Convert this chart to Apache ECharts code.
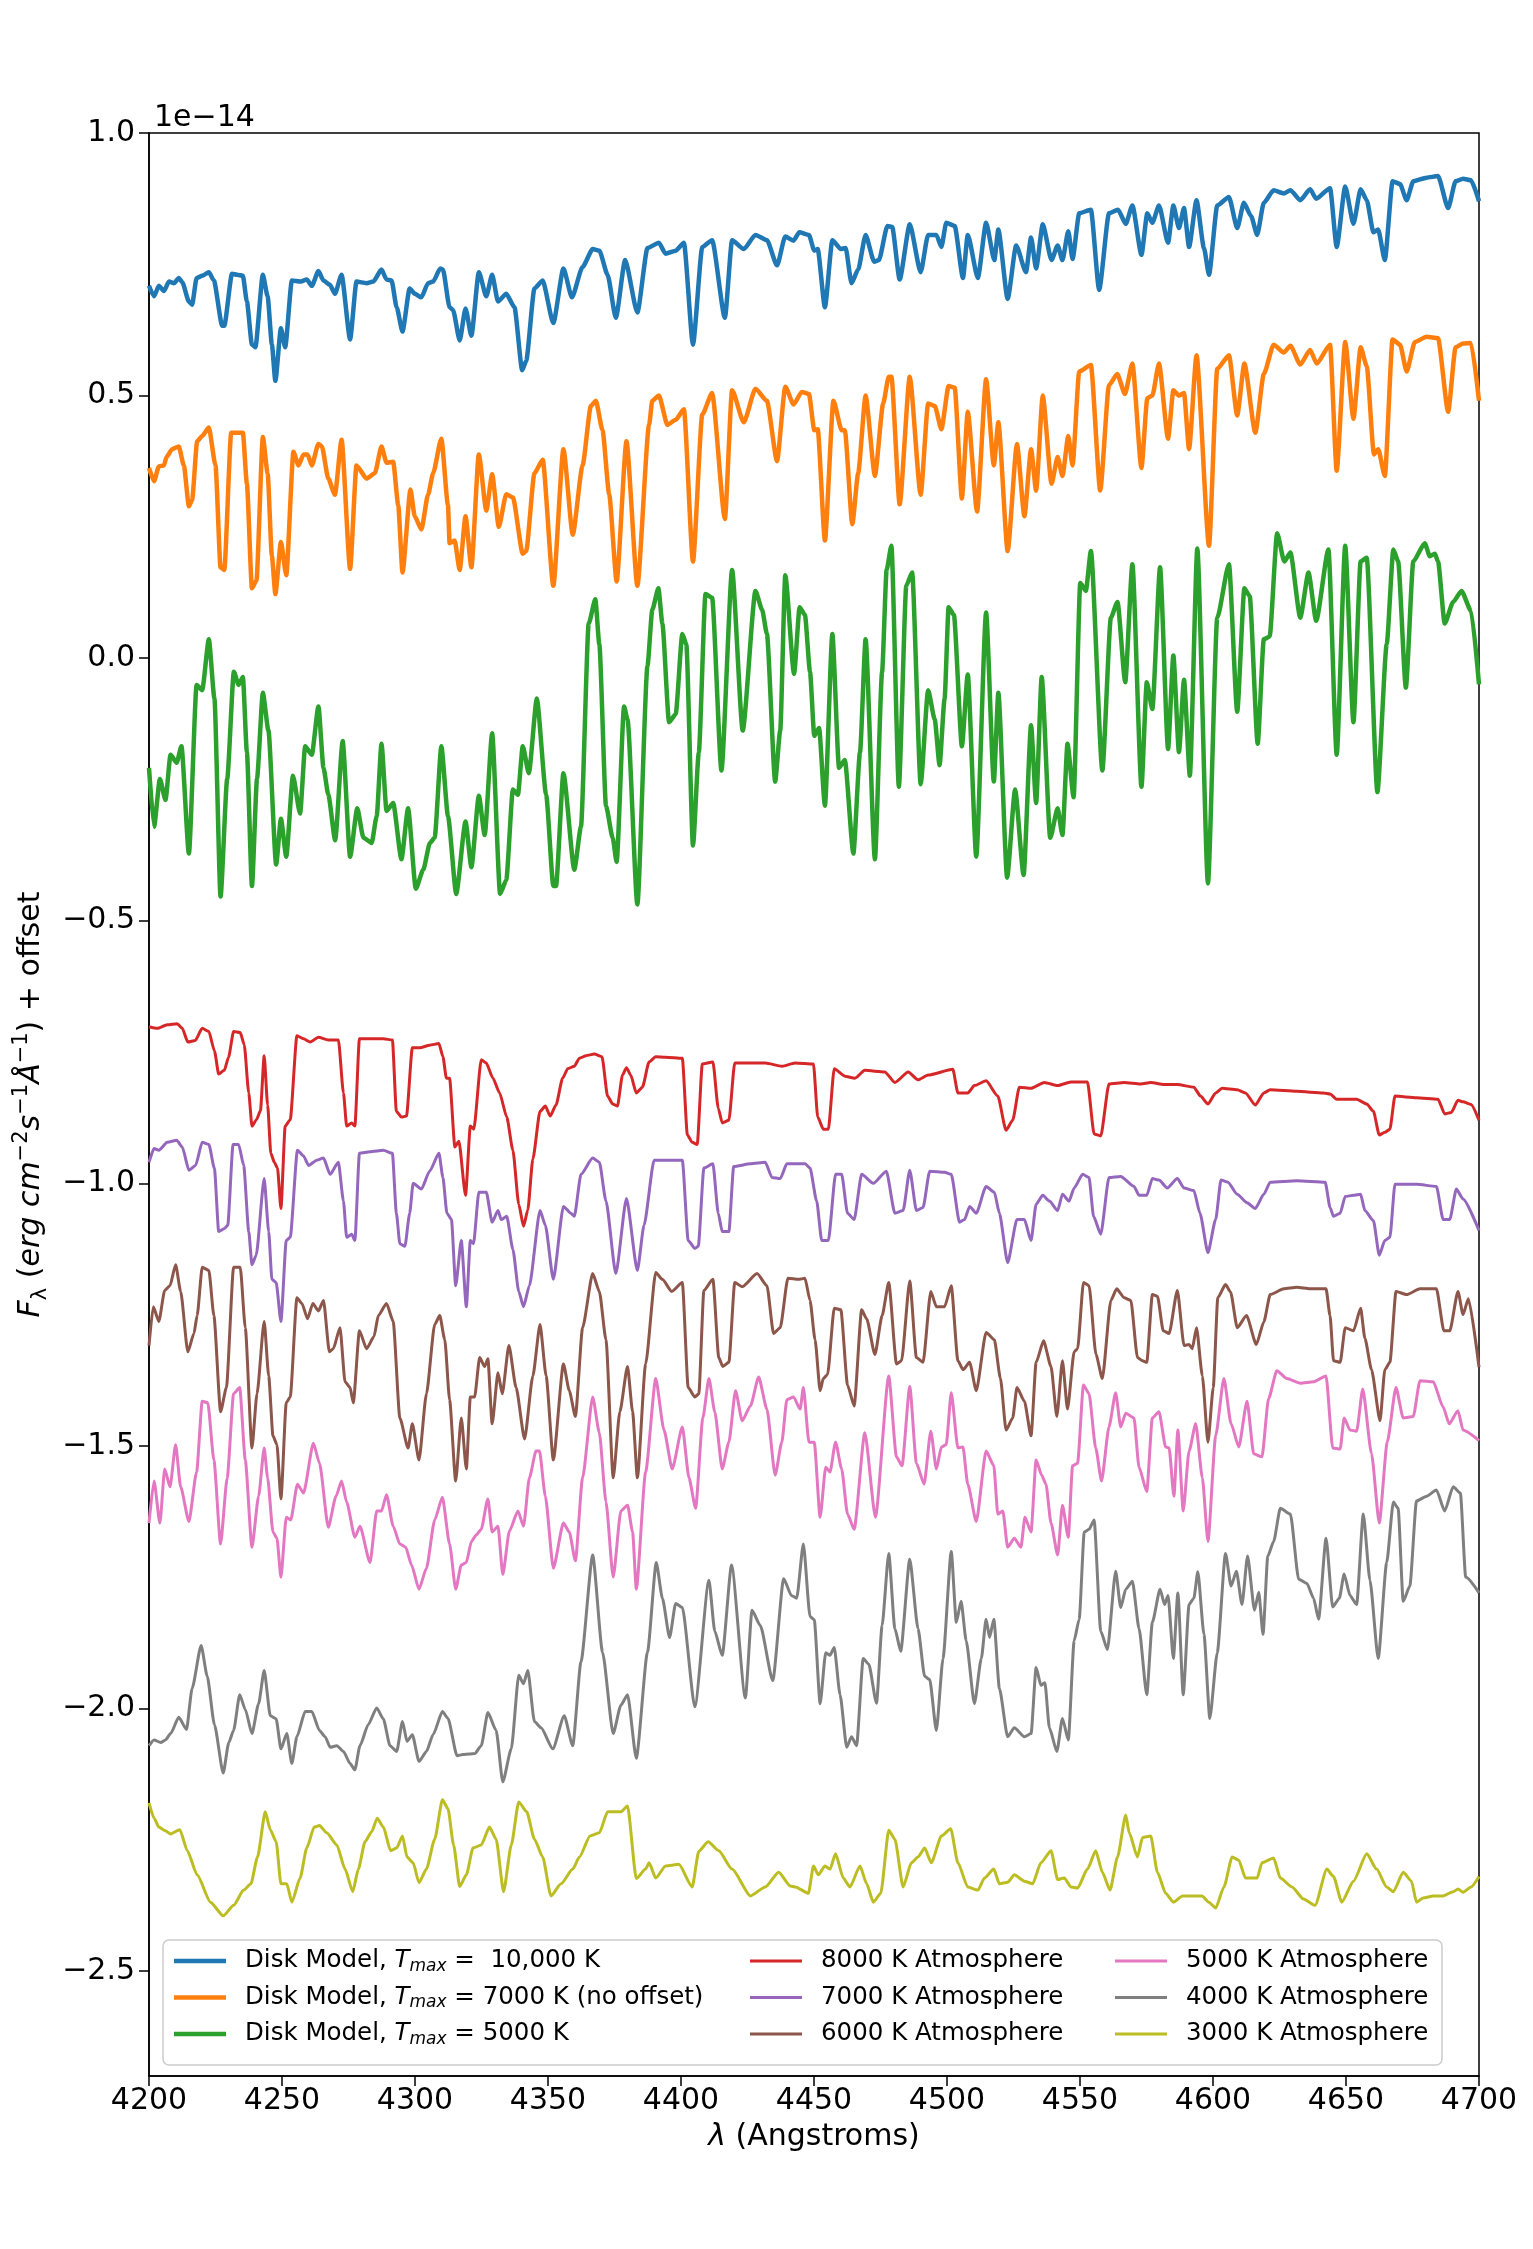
<!DOCTYPE html>
<html>
<head>
<meta charset="utf-8">
<script src="https://cdn.jsdelivr.net/npm/echarts@6/dist/echarts.min.js"></script>
<style>
  html, body { margin: 0; padding: 0; background: #fff; }
  #spectra { width: 1533px; height: 2249px; }
</style>
</head>
<body>
<div id="spectra"></div>
<script>
// flux (units of 1e-14, offsets already applied) vs wavelength in Angstroms
var disk10000 = [[4200,0.709],[4201.9,0.689],[4203.7,0.709],[4205.6,0.699],[4207.5,0.717],[4209.4,0.714],[4211.2,0.724],[4212.5,0.716],[4215,0.679],[4216.2,0.673],[4217.9,0.724],[4220,0.728],[4222.5,0.735],[4224.4,0.719],[4227.5,0.633],[4228.3,0.633],[4231.2,0.732],[4233.1,0.73],[4235.3,0.728],[4236.8,0.679],[4238.7,0.597],[4240,0.592],[4242.8,0.73],[4244.6,0.689],[4246.2,0.597],[4247.5,0.528],[4249.6,0.628],[4251.2,0.592],[4253.7,0.719],[4256.8,0.717],[4259.3,0.721],[4261.2,0.709],[4263.7,0.737],[4265.6,0.719],[4268,0.711],[4269.9,0.694],[4272.4,0.73],[4275.6,0.607],[4278,0.717],[4281.8,0.714],[4284.3,0.717],[4287.4,0.74],[4289.3,0.721],[4291.2,0.719],[4293.1,0.668],[4295.3,0.622],[4298,0.704],[4299.9,0.694],[4302.4,0.687],[4304.9,0.714],[4306.8,0.717],[4309.5,0.742],[4310.5,0.74],[4313,0.668],[4314.3,0.663],[4316.8,0.605],[4319,0.666],[4321.2,0.614],[4324,0.735],[4326.8,0.689],[4329,0.73],[4331.2,0.679],[4334.3,0.694],[4337.4,0.668],[4340.3,0.548],[4341.8,0.566],[4344.9,0.704],[4348,0.719],[4352,0.638],[4355.8,0.742],[4359,0.687],[4363,0.745],[4366.8,0.779],[4369.3,0.776],[4372.4,0.73],[4375.5,0.648],[4379,0.758],[4383.6,0.658],[4387.4,0.781],[4391.7,0.791],[4394.2,0.77],[4398,0.776],[4401.1,0.791],[4404.5,0.597],[4408,0.783],[4411.7,0.796],[4416.5,0.648],[4419.2,0.796],[4423.6,0.779],[4428,0.806],[4432.3,0.796],[4436.1,0.748],[4439.2,0.803],[4442.3,0.795],[4444.5,0.811],[4448.1,0.806],[4450.1,0.776],[4451.4,0.779],[4454.1,0.668],[4456.9,0.796],[4460.1,0.779],[4461.9,0.781],[4464.1,0.714],[4466.6,0.74],[4469.4,0.806],[4472.6,0.755],[4474.4,0.758],[4477.6,0.823],[4479.4,0.821],[4482.2,0.721],[4486,0.826],[4490.1,0.735],[4492.9,0.806],[4496,0.806],[4497.9,0.783],[4499.7,0.829],[4502.9,0.823],[4506,0.724],[4507.8,0.806],[4511.6,0.724],[4514.7,0.829],[4517.8,0.758],[4519.3,0.816],[4522.8,0.684],[4526,0.786],[4529.7,0.735],[4531.6,0.801],[4533.5,0.742],[4536,0.826],[4539.3,0.758],[4541.6,0.786],[4543.4,0.758],[4545.6,0.813],[4547.2,0.76],[4549.7,0.847],[4554.1,0.854],[4557.2,0.701],[4560.9,0.847],[4564.3,0.854],[4567.2,0.827],[4569.7,0.862],[4573.1,0.768],[4575.3,0.847],[4577.2,0.829],[4579.7,0.862],[4583.1,0.791],[4585.1,0.862],[4587.2,0.819],[4589.1,0.857],[4591,0.783],[4593.8,0.872],[4596.6,0.781],[4598.5,0.73],[4601.6,0.862],[4606,0.878],[4609.1,0.819],[4611.6,0.867],[4614.3,0.842],[4616.6,0.806],[4619.1,0.867],[4622.8,0.891],[4626.6,0.885],[4629.1,0.891],[4632.8,0.872],[4636.5,0.893],[4638.8,0.875],[4644,0.895],[4646.5,0.783],[4649.7,0.898],[4652.8,0.827],[4655.5,0.893],[4657.8,0.872],[4660.3,0.811],[4662.1,0.816],[4664.6,0.758],[4667.5,0.908],[4670.3,0.903],[4672.8,0.872],[4675.3,0.908],[4680.3,0.915],[4684.6,0.918],[4688.4,0.857],[4691.2,0.908],[4694,0.913],[4697,0.91],[4700,0.87]];

var disk7000 = [[4200,0.362],[4201.9,0.337],[4203.7,0.365],[4205.6,0.367],[4206.6,0.383],[4208.7,0.398],[4211.2,0.403],[4213.1,0.367],[4215,0.289],[4216.2,0.301],[4218.1,0.413],[4220,0.423],[4222.5,0.439],[4225,0.367],[4226.9,0.173],[4228.3,0.168],[4230.9,0.429],[4233.1,0.429],[4235.3,0.429],[4236.8,0.332],[4238.7,0.133],[4240.4,0.148],[4242.8,0.421],[4244.6,0.352],[4246.2,0.194],[4247.5,0.122],[4249.6,0.221],[4251.6,0.158],[4254.3,0.393],[4256.2,0.367],[4258.1,0.388],[4259.6,0.388],[4261.2,0.367],[4263.7,0.408],[4265,0.403],[4267.4,0.342],[4269.9,0.311],[4272.4,0.416],[4275.6,0.17],[4278,0.367],[4281.8,0.342],[4284.9,0.352],[4287.4,0.403],[4289.3,0.372],[4291.8,0.374],[4293.7,0.291],[4295.3,0.163],[4298.3,0.321],[4299.9,0.27],[4302.4,0.245],[4304.9,0.311],[4306.8,0.352],[4309.9,0.418],[4312.4,0.291],[4313,0.219],[4314.9,0.224],[4316.8,0.168],[4319,0.27],[4321.2,0.173],[4324,0.388],[4326.8,0.281],[4329,0.35],[4331.5,0.25],[4334.3,0.312],[4336.8,0.306],[4340.5,0.199],[4341.8,0.204],[4344.9,0.352],[4348,0.378],[4352,0.138],[4355.8,0.398],[4359.3,0.235],[4363,0.367],[4366.1,0.48],[4368,0.49],[4370.5,0.434],[4373,0.312],[4375.8,0.146],[4379.5,0.413],[4383.6,0.138],[4388,0.444],[4389.2,0.49],[4391.7,0.5],[4394.9,0.444],[4398,0.454],[4401.1,0.474],[4404.5,0.184],[4408,0.464],[4411.7,0.505],[4416.5,0.265],[4419.2,0.51],[4423.6,0.449],[4428,0.513],[4432.3,0.49],[4436.1,0.375],[4439.2,0.517],[4442.3,0.483],[4445.4,0.507],[4448.1,0.503],[4450.1,0.434],[4451.4,0.436],[4454.1,0.224],[4457.3,0.49],[4460.4,0.434],[4461.6,0.434],[4464.4,0.255],[4466.6,0.352],[4469.4,0.5],[4472.9,0.347],[4476,0.485],[4478.1,0.536],[4479.1,0.536],[4482.2,0.293],[4486,0.536],[4490.1,0.311],[4492.9,0.485],[4495.4,0.48],[4497.9,0.436],[4500.6,0.518],[4502.9,0.515],[4505.6,0.304],[4507.8,0.469],[4511.3,0.279],[4514.7,0.531],[4517.6,0.367],[4519.3,0.449],[4522.8,0.204],[4526.3,0.408],[4529.1,0.27],[4531.6,0.398],[4533.5,0.319],[4536,0.5],[4539.3,0.332],[4541.6,0.383],[4543.4,0.347],[4545.6,0.423],[4547.2,0.367],[4549.7,0.546],[4554.1,0.558],[4557.6,0.319],[4560.9,0.52],[4564,0.541],[4566.9,0.503],[4569.7,0.561],[4573.1,0.362],[4575.3,0.495],[4577.2,0.5],[4579.7,0.561],[4583.1,0.418],[4585.1,0.51],[4587.2,0.5],[4589.1,0.505],[4591,0.398],[4593.8,0.577],[4598.5,0.214],[4601.6,0.551],[4606,0.577],[4609.1,0.462],[4611.8,0.561],[4615.9,0.429],[4619.1,0.541],[4622.8,0.597],[4626.6,0.582],[4629.1,0.595],[4632.8,0.559],[4636.5,0.587],[4639,0.561],[4644,0.597],[4646.5,0.357],[4649.7,0.602],[4652.8,0.456],[4655.5,0.592],[4657.8,0.556],[4660.5,0.388],[4662.1,0.398],[4664.6,0.347],[4667.5,0.607],[4670.3,0.597],[4672.8,0.546],[4675.9,0.602],[4680.3,0.612],[4684.6,0.609],[4688.4,0.469],[4691.2,0.592],[4694,0.599],[4697,0.6],[4700,0.49]];

var disk5000 = [[4200,-0.209],[4201.9,-0.321],[4204.1,-0.23],[4206.2,-0.27],[4208.1,-0.184],[4210.4,-0.199],[4212.2,-0.168],[4215,-0.372],[4217.9,-0.051],[4220,-0.061],[4222.5,0.036],[4224.6,-0.077],[4226.9,-0.454],[4229.4,-0.23],[4231.9,-0.026],[4233.7,-0.051],[4235.3,-0.036],[4236.8,-0.179],[4238.7,-0.434],[4240.6,-0.23],[4242.8,-0.066],[4244.9,-0.138],[4247.8,-0.393],[4249.6,-0.306],[4251.6,-0.378],[4254.1,-0.224],[4256.8,-0.296],[4258.7,-0.168],[4261.2,-0.184],[4263.7,-0.092],[4265.6,-0.209],[4267.4,-0.26],[4270,-0.347],[4272.8,-0.158],[4275.6,-0.378],[4278.3,-0.286],[4280.6,-0.342],[4283.7,-0.352],[4285.6,-0.301],[4287.4,-0.163],[4289.3,-0.291],[4291.8,-0.276],[4294.9,-0.383],[4297.4,-0.286],[4300.3,-0.439],[4303.1,-0.403],[4305.6,-0.352],[4307.4,-0.342],[4309.9,-0.168],[4312.4,-0.301],[4315.5,-0.449],[4319,-0.311],[4321.2,-0.398],[4324,-0.262],[4326.2,-0.337],[4329,-0.143],[4332,-0.449],[4334.3,-0.423],[4336.8,-0.25],[4338.7,-0.26],[4340.5,-0.168],[4342.8,-0.219],[4345.8,-0.077],[4349.3,-0.26],[4352,-0.434],[4353,-0.434],[4355.8,-0.219],[4359.9,-0.403],[4362.4,-0.321],[4365.3,0.066],[4367.8,0.112],[4369.3,0.026],[4371.8,-0.281],[4374.3,-0.342],[4375.8,-0.388],[4378.6,-0.092],[4379.9,-0.117],[4383.6,-0.469],[4387.4,-0.015],[4389.2,0.092],[4391.5,0.133],[4393,0.066],[4395.5,-0.122],[4398,-0.107],[4400.5,0.046],[4402,0.026],[4404.5,-0.357],[4406.7,-0.179],[4409.2,0.122],[4411.7,0.115],[4415.2,-0.214],[4419.2,0.168],[4423.2,-0.138],[4428,0.128],[4430.5,0.092],[4432.3,0.046],[4435.4,-0.235],[4437.3,-0.138],[4439.2,0.158],[4442.5,-0.03],[4444.6,0.097],[4446.6,0.082],[4448.5,-0.026],[4450.1,-0.148],[4451.9,-0.133],[4454.1,-0.281],[4456.9,0.046],[4459.4,-0.209],[4461.6,-0.194],[4464.8,-0.372],[4467.3,-0.179],[4469.4,0.036],[4472.9,-0.383],[4475.6,-0.026],[4477.3,0.168],[4479.1,0.214],[4481.9,-0.245],[4484.7,0.138],[4486.9,0.163],[4490.1,-0.24],[4492.9,-0.061],[4495.4,-0.117],[4497.2,-0.204],[4499.1,-0.077],[4500.6,0.097],[4502.6,0.082],[4505.6,-0.168],[4507.8,-0.031],[4511,-0.378],[4514.7,0.087],[4517.6,-0.235],[4519.3,-0.066],[4522.6,-0.418],[4525.6,-0.25],[4528.8,-0.413],[4531.6,-0.128],[4533.5,-0.276],[4535.6,-0.036],[4538.8,-0.342],[4541.6,-0.286],[4543.4,-0.337],[4545.3,-0.163],[4547.6,-0.265],[4550.1,0.143],[4552.2,0.128],[4554.1,0.204],[4558.4,-0.214],[4561.6,0.077],[4564.1,0.107],[4567,-0.046],[4569.7,0.179],[4573.1,-0.245],[4575.1,-0.046],[4577.2,-0.097],[4580.1,0.173],[4583.1,-0.173],[4585.1,0.005],[4587.2,-0.179],[4589.1,-0.041],[4591.3,-0.224],[4594.1,0.209],[4598.1,-0.429],[4601.6,0.077],[4606,0.179],[4609.1,-0.102],[4611.8,0.133],[4613.8,0.118],[4616.8,-0.163],[4619.1,0.036],[4621.3,0.041],[4624.1,0.238],[4626.8,0.184],[4629.1,0.201],[4632.8,0.077],[4635.9,0.163],[4638.8,0.071],[4643.4,0.207],[4646.5,-0.184],[4649.7,0.214],[4652.8,-0.122],[4655.5,0.184],[4657.8,0.191],[4661.8,-0.255],[4665.3,0.026],[4667.8,0.207],[4669.6,0.184],[4672.5,-0.056],[4675.3,0.184],[4679.6,0.219],[4681.5,0.194],[4683.4,0.199],[4684.6,0.184],[4687.1,0.066],[4690.3,0.107],[4693.4,0.128],[4697,0.09],[4700,-0.05]];

var atm8000 = [[4200,-0.702],[4203.1,-0.705],[4206.9,-0.698],[4210.6,-0.696],[4212.5,-0.705],[4214.6,-0.731],[4217.4,-0.728],[4220,-0.705],[4222.5,-0.711],[4224.6,-0.748],[4226.2,-0.792],[4228.3,-0.785],[4229.9,-0.76],[4231.8,-0.711],[4234.3,-0.713],[4235.8,-0.736],[4237.5,-0.828],[4238.7,-0.891],[4240.4,-0.879],[4241.9,-0.862],[4243.3,-0.757],[4244.6,-0.851],[4245.8,-0.943],[4247.1,-0.96],[4248.3,-0.971],[4249.6,-1.048],[4251.2,-0.891],[4253.1,-0.879],[4255.6,-0.719],[4258.1,-0.725],[4260.6,-0.731],[4263.7,-0.722],[4267.4,-0.727],[4271.2,-0.727],[4273.1,-0.828],[4274.3,-0.891],[4276.2,-0.885],[4277.4,-0.891],[4279.1,-0.725],[4283.1,-0.725],[4288.1,-0.725],[4291.5,-0.727],[4293,-0.863],[4294.9,-0.874],[4296.8,-0.872],[4299,-0.742],[4301.8,-0.742],[4305.5,-0.737],[4309,-0.734],[4310.5,-0.759],[4311.8,-0.8],[4313,-0.8],[4315,-0.931],[4316.5,-0.92],[4319,-1.023],[4320.8,-0.891],[4322.1,-0.897],[4324.9,-0.765],[4326.8,-0.771],[4329.3,-0.8],[4331.8,-0.828],[4334.5,-0.874],[4336.8,-0.937],[4339,-1.04],[4340.8,-1.082],[4342.4,-1.051],[4344.3,-0.954],[4347,-0.863],[4349,-0.853],[4350.8,-0.872],[4353,-0.851],[4355.5,-0.8],[4357.4,-0.782],[4359.9,-0.777],[4361.8,-0.762],[4364.3,-0.757],[4367.4,-0.754],[4370.3,-0.759],[4372.4,-0.834],[4374.3,-0.849],[4376.1,-0.853],[4378,-0.794],[4379.5,-0.78],[4381.1,-0.794],[4383.2,-0.828],[4385.5,-0.817],[4388,-0.769],[4390.5,-0.759],[4394.2,-0.76],[4400.5,-0.762],[4402.4,-0.908],[4404.2,-0.922],[4406.1,-0.926],[4408,-0.773],[4412,-0.769],[4414,-0.857],[4415.5,-0.885],[4418,-0.88],[4420.2,-0.771],[4425.5,-0.771],[4431.7,-0.771],[4438,-0.777],[4442.9,-0.771],[4449.8,-0.773],[4451.4,-0.874],[4453.5,-0.897],[4455.4,-0.897],[4457.6,-0.782],[4461.6,-0.796],[4465.4,-0.8],[4469.1,-0.785],[4476.6,-0.788],[4480.4,-0.808],[4485.4,-0.788],[4489.1,-0.803],[4492.9,-0.794],[4502.2,-0.783],[4504.1,-0.828],[4507.8,-0.828],[4510.3,-0.814],[4514.7,-0.805],[4519.1,-0.834],[4522.2,-0.899],[4524.7,-0.88],[4527.2,-0.817],[4531.6,-0.819],[4536.6,-0.808],[4541.6,-0.814],[4546.6,-0.807],[4552.8,-0.807],[4555.3,-0.906],[4557.8,-0.91],[4560.9,-0.811],[4566.6,-0.808],[4572.8,-0.811],[4576.6,-0.808],[4581.6,-0.812],[4586.6,-0.812],[4592.8,-0.817],[4595.3,-0.834],[4598.1,-0.849],[4601,-0.828],[4603.4,-0.819],[4609.1,-0.822],[4612.2,-0.828],[4615.9,-0.851],[4619.1,-0.828],[4621.5,-0.822],[4631.5,-0.825],[4641.5,-0.828],[4644,-0.83],[4646.5,-0.84],[4654,-0.84],[4657.8,-0.849],[4660.3,-0.863],[4662.5,-0.908],[4664.6,-0.903],[4666.5,-0.897],[4668.4,-0.834],[4676.5,-0.837],[4684.6,-0.84],[4687.1,-0.868],[4689.6,-0.865],[4692.1,-0.842],[4694,-0.845],[4697,-0.85],[4700,-0.88]];

var atm7000 = [[4200,-0.96],[4201.9,-0.934],[4203.7,-0.937],[4206.9,-0.922],[4210.4,-0.918],[4212.5,-0.931],[4215,-0.975],[4217.5,-0.966],[4220,-0.922],[4222.5,-0.926],[4224.6,-0.972],[4226.2,-1.092],[4228.4,-1.086],[4229.6,-1.08],[4231.6,-0.926],[4233.7,-0.926],[4235.6,-0.966],[4237.5,-1.092],[4238.7,-1.155],[4240.3,-1.137],[4243.3,-0.991],[4245,-1.092],[4246.2,-1.183],[4247.8,-1.189],[4249.6,-1.263],[4251.6,-1.109],[4253.1,-1.103],[4255.8,-0.937],[4258.1,-0.948],[4260,-0.966],[4263.1,-0.956],[4265.6,-0.952],[4268.1,-0.983],[4271.2,-0.96],[4273.1,-1.034],[4274.3,-1.103],[4276.2,-1.097],[4277.4,-1.109],[4279.1,-0.943],[4283.1,-0.94],[4288.1,-0.937],[4291.5,-0.943],[4293,-1.057],[4294.3,-1.115],[4296.2,-1.12],[4298,-1.057],[4299.3,-1],[4302.4,-1.011],[4305.5,-0.977],[4309,-0.943],[4310.5,-0.989],[4312,-1.057],[4313.7,-1.069],[4315.3,-1.195],[4317.4,-1.109],[4319.3,-1.235],[4320.8,-1.109],[4322,-1.115],[4324,-1.017],[4326.8,-1.017],[4329,-1.074],[4331.2,-1.052],[4332.4,-1.069],[4334.5,-1.063],[4336.8,-1.126],[4339,-1.206],[4340.8,-1.235],[4343,-1.195],[4347,-1.052],[4349,-1.08],[4352,-1.183],[4355.8,-1.044],[4358.6,-1.057],[4359.9,-1.063],[4362.4,-0.983],[4366.8,-0.952],[4369.3,-0.96],[4371.8,-1.034],[4375.5,-1.172],[4379.5,-1.029],[4383.6,-1.166],[4386.1,-1.08],[4389.9,-0.956],[4394.2,-0.956],[4400.5,-0.956],[4402.7,-1.109],[4405.2,-1.124],[4406.5,-1.12],[4408.6,-0.971],[4412,-0.963],[4414,-1.057],[4415.5,-1.092],[4418,-1.092],[4419.8,-0.968],[4426.1,-0.963],[4431.7,-0.96],[4434.2,-0.989],[4437.3,-0.991],[4439.8,-0.963],[4446.7,-0.963],[4448.5,-0.971],[4451,-1.034],[4452.9,-1.109],[4455.4,-1.109],[4458.1,-0.983],[4460.4,-0.983],[4462.6,-1.057],[4465.1,-1.069],[4467.9,-0.983],[4472.3,-1],[4477.2,-0.977],[4480.4,-1.057],[4483.5,-1.052],[4486,-0.975],[4488.5,-1.052],[4491,-1.046],[4493.5,-0.977],[4499.1,-0.979],[4501.6,-0.983],[4504.7,-1.074],[4506.6,-1.069],[4508.5,-1.044],[4511,-1.057],[4514.7,-1.006],[4517.8,-1.017],[4519.7,-1.057],[4522.8,-1.151],[4526.3,-1.069],[4529.1,-1.069],[4531.6,-1.109],[4533.5,-1.04],[4536,-1.023],[4538.5,-1.034],[4541.6,-1.052],[4543.4,-1.021],[4545.9,-1.034],[4547.8,-1.009],[4551,-0.983],[4553.4,-0.989],[4555.1,-1.063],[4557.8,-1.097],[4560.9,-0.989],[4565.3,-0.987],[4570.3,-1.006],[4572.2,-1.023],[4575.1,-1.023],[4577.2,-0.991],[4579.7,-0.994],[4582.8,-1.009],[4586.6,-0.991],[4589.1,-1.009],[4592.8,-1.014],[4595.1,-1.057],[4598.1,-1.132],[4601,-1.069],[4603,-0.994],[4605.6,-0.998],[4609.1,-1.021],[4612.8,-1.037],[4615.9,-1.048],[4619.1,-1.021],[4621.5,-0.998],[4631.5,-0.995],[4642.2,-0.998],[4644,-1.046],[4645.3,-1.063],[4647.8,-1.057],[4649.7,-1.025],[4652.8,-1.023],[4655.5,-1.021],[4657.1,-1.052],[4660.3,-1.071],[4662.5,-1.137],[4664.6,-1.109],[4666.5,-1.103],[4668.4,-1.002],[4676.5,-1.002],[4684,-1.006],[4686.5,-1.069],[4689,-1.069],[4691.5,-1.011],[4694,-1.03],[4700,-1.09]];

var atm6000 = [[4200,-1.309],[4201.6,-1.235],[4203.7,-1.263],[4205.9,-1.204],[4207.9,-1.195],[4210,-1.155],[4211.9,-1.206],[4214.6,-1.321],[4216.9,-1.286],[4218.1,-1.252],[4220,-1.16],[4222.5,-1.166],[4224.4,-1.252],[4226.9,-1.435],[4229.1,-1.389],[4231.8,-1.16],[4234.3,-1.16],[4236.2,-1.275],[4238.7,-1.504],[4240.6,-1.401],[4243.3,-1.263],[4245,-1.367],[4246.6,-1.481],[4248.1,-1.498],[4249.6,-1.601],[4251.6,-1.418],[4253.1,-1.407],[4255.6,-1.218],[4257.5,-1.229],[4259.6,-1.258],[4261.6,-1.229],[4263.7,-1.243],[4265.6,-1.223],[4267.8,-1.321],[4269.3,-1.315],[4271.8,-1.275],[4273.7,-1.378],[4275.6,-1.389],[4276.8,-1.418],[4279.1,-1.281],[4281.8,-1.315],[4284.6,-1.292],[4286.2,-1.252],[4289.3,-1.229],[4291.8,-1.263],[4294.3,-1.447],[4297.4,-1.504],[4299,-1.458],[4301.5,-1.527],[4304.3,-1.401],[4307.4,-1.269],[4309.3,-1.252],[4311.2,-1.298],[4313,-1.412],[4315.3,-1.567],[4317.4,-1.447],[4319.3,-1.544],[4320.8,-1.407],[4322.4,-1.407],[4324.3,-1.332],[4326.2,-1.349],[4327.4,-1.334],[4329,-1.458],[4331.2,-1.361],[4332.8,-1.401],[4335.3,-1.309],[4338,-1.389],[4341.2,-1.487],[4344.3,-1.367],[4347,-1.269],[4349.3,-1.367],[4352,-1.527],[4355.8,-1.344],[4358,-1.395],[4360.3,-1.444],[4363,-1.275],[4366.8,-1.172],[4369.3,-1.206],[4371.8,-1.298],[4374.5,-1.561],[4377,-1.435],[4379.9,-1.349],[4381.8,-1.435],[4383.6,-1.561],[4386.7,-1.344],[4390.5,-1.17],[4393,-1.183],[4396.5,-1.206],[4400.5,-1.189],[4402.7,-1.389],[4405.2,-1.407],[4406.7,-1.401],[4408.6,-1.204],[4412,-1.183],[4414.2,-1.332],[4415.7,-1.349],[4418,-1.341],[4420.2,-1.189],[4423,-1.197],[4428.6,-1.172],[4432.3,-1.195],[4434.8,-1.286],[4437.3,-1.275],[4440.2,-1.181],[4444.2,-1.183],[4446.6,-1.181],[4448.5,-1.223],[4450.4,-1.298],[4452.3,-1.395],[4453.5,-1.372],[4455.1,-1.364],[4457.6,-1.238],[4460.1,-1.241],[4462.6,-1.384],[4465.1,-1.424],[4467.9,-1.241],[4469.8,-1.258],[4472.9,-1.326],[4475.6,-1.252],[4478.1,-1.189],[4481,-1.344],[4482.9,-1.338],[4486,-1.186],[4488.5,-1.332],[4491,-1.341],[4493.9,-1.206],[4496,-1.235],[4499.1,-1.235],[4501.6,-1.195],[4504.1,-1.338],[4506,-1.355],[4508.5,-1.341],[4511,-1.395],[4514.7,-1.284],[4517.8,-1.298],[4520.1,-1.372],[4522.2,-1.47],[4524.7,-1.447],[4526.3,-1.389],[4529.1,-1.415],[4531.6,-1.481],[4533.5,-1.341],[4536.3,-1.3],[4539.1,-1.349],[4541.3,-1.444],[4543.4,-1.338],[4545.3,-1.43],[4547.8,-1.321],[4549.1,-1.315],[4551.3,-1.189],[4553.4,-1.195],[4556,-1.326],[4558.4,-1.372],[4561.6,-1.223],[4563.8,-1.201],[4566.6,-1.218],[4569.1,-1.223],[4571.6,-1.332],[4573.5,-1.338],[4575.1,-1.341],[4577.2,-1.212],[4579.1,-1.215],[4581.3,-1.281],[4583.5,-1.286],[4586.6,-1.204],[4589.1,-1.309],[4591,-1.307],[4592.2,-1.315],[4593.8,-1.275],[4596,-1.367],[4598.1,-1.493],[4600.1,-1.389],[4601.8,-1.218],[4604.7,-1.193],[4606.6,-1.207],[4609.1,-1.275],[4612.6,-1.252],[4616.3,-1.307],[4619.1,-1.264],[4621.5,-1.212],[4626.6,-1.201],[4631.5,-1.198],[4636.5,-1.201],[4642.5,-1.201],[4644,-1.252],[4645.3,-1.338],[4647.8,-1.341],[4649.7,-1.275],[4652.8,-1.281],[4655.5,-1.238],[4657.1,-1.295],[4659.6,-1.355],[4662.8,-1.452],[4664.6,-1.355],[4666.5,-1.341],[4668.8,-1.206],[4672.8,-1.212],[4677.8,-1.201],[4684,-1.201],[4686.8,-1.281],[4689,-1.281],[4692.1,-1.206],[4694,-1.25],[4696,-1.22],[4700,-1.35]];

var atm5000 = [[4200,-1.647],[4201.9,-1.567],[4204.1,-1.647],[4205.9,-1.544],[4207.9,-1.578],[4210,-1.498],[4211.9,-1.578],[4215,-1.644],[4217.9,-1.55],[4220,-1.415],[4222.1,-1.418],[4224.4,-1.527],[4226.9,-1.687],[4229.4,-1.561],[4231.8,-1.401],[4234.1,-1.389],[4236.2,-1.527],[4238.7,-1.693],[4241.2,-1.596],[4243.3,-1.504],[4244.6,-1.561],[4246.6,-1.664],[4248.1,-1.676],[4249.6,-1.75],[4251.6,-1.636],[4253.3,-1.641],[4255.8,-1.573],[4258.1,-1.59],[4261.8,-1.495],[4264.1,-1.533],[4267.4,-1.655],[4270.3,-1.596],[4272.4,-1.567],[4274.3,-1.607],[4277.4,-1.674],[4279.3,-1.653],[4283.1,-1.722],[4285.6,-1.624],[4287.4,-1.624],[4289.3,-1.593],[4291.8,-1.653],[4294.3,-1.687],[4296.5,-1.693],[4298.7,-1.727],[4301.5,-1.773],[4304.3,-1.733],[4307.4,-1.641],[4310.3,-1.598],[4313,-1.687],[4315.3,-1.773],[4317.4,-1.727],[4319.3,-1.722],[4321.2,-1.682],[4323,-1.67],[4324.9,-1.659],[4327.4,-1.601],[4329,-1.664],[4331.2,-1.653],[4333,-1.745],[4335.5,-1.662],[4338.7,-1.624],[4340.8,-1.653],[4343,-1.561],[4345.5,-1.51],[4346.8,-1.51],[4349,-1.596],[4352,-1.733],[4355.8,-1.647],[4358,-1.664],[4360.3,-1.719],[4363,-1.561],[4366.8,-1.407],[4369.3,-1.475],[4371.8,-1.607],[4374.5,-1.75],[4377.4,-1.624],[4379.9,-1.613],[4381.8,-1.664],[4383.2,-1.773],[4386.7,-1.55],[4390.5,-1.372],[4393.6,-1.47],[4396.7,-1.544],[4400.5,-1.464],[4403,-1.561],[4405.5,-1.619],[4408.2,-1.447],[4410.5,-1.372],[4412.7,-1.435],[4415.5,-1.544],[4418,-1.493],[4420.5,-1.395],[4423,-1.452],[4426.1,-1.424],[4429.2,-1.369],[4432.3,-1.43],[4435.4,-1.556],[4437.9,-1.493],[4439.8,-1.412],[4442.3,-1.407],[4444.8,-1.43],[4446,-1.389],[4448.1,-1.493],[4450.1,-1.493],[4452.3,-1.636],[4454.4,-1.541],[4456,-1.55],[4458.1,-1.493],[4460.4,-1.544],[4462.6,-1.63],[4465.1,-1.659],[4469.1,-1.475],[4473.1,-1.636],[4478.1,-1.367],[4481,-1.521],[4483.1,-1.538],[4486,-1.387],[4488.5,-1.533],[4491.4,-1.573],[4493.9,-1.472],[4496,-1.544],[4497.9,-1.502],[4499.7,-1.498],[4501.6,-1.399],[4504.1,-1.504],[4506,-1.502],[4507.8,-1.573],[4511,-1.644],[4514.7,-1.51],[4517.6,-1.538],[4519.1,-1.63],[4521,-1.624],[4522.8,-1.693],[4525.3,-1.676],[4527.8,-1.693],[4529.3,-1.636],[4531.6,-1.664],[4533.5,-1.527],[4535.6,-1.556],[4537.2,-1.573],[4539.1,-1.647],[4541.6,-1.708],[4543.4,-1.613],[4545.6,-1.674],[4547.2,-1.538],[4549.1,-1.533],[4551.3,-1.384],[4553.4,-1.401],[4555.9,-1.504],[4558.1,-1.567],[4560.9,-1.464],[4563.4,-1.399],[4565.3,-1.464],[4567.2,-1.438],[4570.3,-1.447],[4572.2,-1.541],[4575.1,-1.587],[4577.2,-1.447],[4579.7,-1.435],[4582.2,-1.502],[4583.5,-1.504],[4585.3,-1.596],[4586.8,-1.47],[4588.8,-1.624],[4591,-1.51],[4593.5,-1.458],[4596,-1.561],[4598.1,-1.682],[4601,-1.481],[4604.1,-1.372],[4606.8,-1.458],[4609.7,-1.502],[4612.8,-1.415],[4615.3,-1.515],[4618.4,-1.521],[4620.9,-1.41],[4624,-1.357],[4627.8,-1.372],[4632.8,-1.381],[4637.8,-1.378],[4642.5,-1.367],[4645,-1.504],[4647.8,-1.506],[4649.3,-1.447],[4651.5,-1.47],[4654,-1.472],[4656.3,-1.392],[4659.6,-1.515],[4662.5,-1.647],[4665.5,-1.493],[4668.8,-1.389],[4671.5,-1.447],[4675.3,-1.444],[4677.8,-1.376],[4682.8,-1.378],[4686.5,-1.426],[4688.8,-1.458],[4692.1,-1.433],[4694,-1.47],[4700,-1.49]];

var atm4000 = [[4200,-2.071],[4201.9,-2.06],[4204.4,-2.065],[4206.2,-2.06],[4208.1,-2.048],[4211.2,-2.017],[4214.1,-2.04],[4216.2,-1.962],[4219.6,-1.88],[4221.9,-1.939],[4224.6,-2.031],[4227.9,-2.123],[4230,-2.065],[4231.8,-2.042],[4234.1,-1.974],[4236.2,-2.002],[4238.7,-2.048],[4241.2,-1.991],[4243.3,-1.928],[4245.6,-2.014],[4247.8,-2.02],[4249.6,-2.077],[4251.8,-2.048],[4253.7,-2.105],[4255.6,-2.054],[4258.7,-2.006],[4261.2,-2.006],[4264.1,-2.042],[4266.2,-2.054],[4268.1,-2.074],[4270.6,-2.071],[4273.1,-2.082],[4275.6,-2.105],[4277.4,-2.117],[4279.3,-2.071],[4282.4,-2.031],[4285.6,-1.999],[4288.1,-2.02],[4290.6,-2.071],[4293.1,-2.082],[4295.3,-2.025],[4297,-2.063],[4299,-2.05],[4301.5,-2.101],[4304.3,-2.082],[4306.8,-2.05],[4310.3,-2.006],[4312.4,-2.019],[4315.8,-2.09],[4318,-2.088],[4320.5,-2.087],[4322.5,-2.086],[4324.9,-2.071],[4327.4,-2.008],[4330.5,-2.042],[4333,-2.14],[4336.2,-2.077],[4339,-1.937],[4340.8,-1.953],[4342.4,-1.928],[4344.9,-2.025],[4347.4,-2.037],[4351.8,-2.077],[4356.1,-2.014],[4359.3,-2.071],[4362.4,-1.911],[4366.8,-1.708],[4370.5,-1.893],[4374.5,-2.048],[4377.4,-1.994],[4379.9,-1.974],[4383.2,-2.095],[4387.4,-1.893],[4390.7,-1.722],[4393,-1.79],[4395.7,-1.865],[4398,-1.8],[4400.5,-1.808],[4405.2,-1.997],[4410.5,-1.756],[4412.7,-1.853],[4415.5,-1.899],[4419,-1.727],[4424.2,-1.98],[4426.7,-1.813],[4429.8,-1.842],[4434.5,-1.947],[4438.6,-1.753],[4441.5,-1.785],[4443.5,-1.79],[4446,-1.687],[4448.5,-1.825],[4450.1,-1.831],[4452.3,-1.991],[4454.4,-1.894],[4456,-1.899],[4457.6,-1.884],[4459.8,-1.974],[4462.3,-2.074],[4464.1,-2.054],[4466,-2.071],[4468.5,-1.905],[4470.6,-1.916],[4473.5,-1.99],[4475.6,-1.842],[4478.1,-1.705],[4480.4,-1.848],[4482.6,-1.891],[4486,-1.716],[4489.1,-1.848],[4491.6,-1.939],[4493.5,-1.945],[4496,-2.042],[4498.5,-1.905],[4501.6,-1.701],[4503.5,-1.836],[4505.3,-1.796],[4507.2,-1.871],[4510.3,-1.991],[4512.9,-1.905],[4514.7,-1.83],[4516,-1.865],[4517.6,-1.83],[4519.7,-1.962],[4522.8,-2.054],[4525.3,-2.037],[4529.1,-2.054],[4531.6,-2.048],[4533.5,-1.922],[4535.3,-1.956],[4536.8,-1.951],[4538.5,-2.037],[4541.3,-2.082],[4543.4,-2.019],[4545.6,-2.06],[4547.8,-1.871],[4549.7,-1.83],[4551.6,-1.664],[4553.4,-1.659],[4555.3,-1.641],[4557.8,-1.853],[4560.3,-1.888],[4563.4,-1.739],[4565.3,-1.808],[4567.2,-1.773],[4569.7,-1.758],[4572.2,-1.848],[4575.1,-1.974],[4577.2,-1.836],[4580.1,-1.773],[4581.8,-1.802],[4583.1,-1.785],[4585.1,-1.905],[4586.8,-1.78],[4588.8,-1.974],[4591,-1.802],[4592.8,-1.79],[4594.3,-1.74],[4596.6,-1.859],[4598.8,-2.019],[4601.6,-1.894],[4604.7,-1.705],[4606.8,-1.767],[4608.8,-1.739],[4610.9,-1.802],[4613,-1.71],[4615.6,-1.813],[4617.2,-1.779],[4618.8,-1.859],[4620.6,-1.71],[4622.8,-1.682],[4625.3,-1.619],[4629.1,-1.63],[4632.2,-1.754],[4635.3,-1.762],[4637.8,-1.79],[4639.7,-1.83],[4642.5,-1.676],[4645,-1.807],[4647.5,-1.79],[4649.3,-1.744],[4651.5,-1.785],[4654,-1.802],[4656.5,-1.63],[4659,-1.756],[4662.1,-1.905],[4665.3,-1.722],[4667.8,-1.607],[4669.6,-1.619],[4671.5,-1.796],[4674,-1.767],[4676.5,-1.605],[4680.3,-1.596],[4684,-1.584],[4687.1,-1.624],[4690.3,-1.578],[4693,-1.59],[4695,-1.75],[4700,-1.78]];

var atm3000 = [[4200,-2.18],[4201.9,-2.209],[4203.7,-2.226],[4206.2,-2.233],[4208.1,-2.239],[4211.6,-2.231],[4214.4,-2.271],[4218.1,-2.317],[4223.1,-2.369],[4227.9,-2.395],[4231.8,-2.375],[4235.6,-2.346],[4238.3,-2.334],[4240.8,-2.283],[4243.7,-2.197],[4245.6,-2.231],[4247.8,-2.254],[4249.6,-2.334],[4251.8,-2.334],[4253.7,-2.369],[4256.8,-2.323],[4259.3,-2.266],[4262.1,-2.226],[4264.1,-2.223],[4266.8,-2.237],[4270.6,-2.26],[4273.7,-2.306],[4276.6,-2.349],[4278.7,-2.306],[4281.2,-2.254],[4283.7,-2.235],[4285.8,-2.209],[4288.1,-2.226],[4290.8,-2.271],[4293.1,-2.266],[4295.3,-2.243],[4297,-2.283],[4299.3,-2.294],[4301.5,-2.332],[4304.3,-2.306],[4307.4,-2.249],[4310.3,-2.174],[4312.4,-2.191],[4314.5,-2.26],[4316.8,-2.339],[4319.3,-2.317],[4321.8,-2.266],[4324.9,-2.26],[4328,-2.226],[4330.5,-2.249],[4333.3,-2.349],[4336.2,-2.26],[4339,-2.178],[4342,-2.197],[4344.9,-2.249],[4348,-2.283],[4351.1,-2.357],[4354.9,-2.334],[4359.3,-2.306],[4361.8,-2.283],[4365.8,-2.243],[4369.3,-2.237],[4372.4,-2.197],[4374.9,-2.197],[4377.4,-2.197],[4379.9,-2.186],[4383.2,-2.324],[4386.7,-2.306],[4388,-2.294],[4390.5,-2.323],[4394.2,-2.3],[4399.2,-2.297],[4404.2,-2.34],[4406.7,-2.272],[4410.2,-2.254],[4414.2,-2.271],[4419.2,-2.306],[4426.1,-2.357],[4431.7,-2.34],[4436.7,-2.312],[4441.1,-2.338],[4443,-2.34],[4447.9,-2.352],[4449.8,-2.3],[4451.6,-2.317],[4454.1,-2.3],[4456,-2.306],[4458.1,-2.277],[4461,-2.323],[4463.5,-2.34],[4467.3,-2.3],[4469.8,-2.334],[4472.3,-2.369],[4475.1,-2.352],[4478.1,-2.232],[4480.4,-2.249],[4483.5,-2.34],[4486.6,-2.294],[4489.1,-2.283],[4491.6,-2.266],[4494.1,-2.294],[4497.9,-2.243],[4501.4,-2.229],[4504.1,-2.294],[4507.8,-2.34],[4511.6,-2.346],[4514.1,-2.323],[4517.6,-2.306],[4519.7,-2.334],[4522.8,-2.331],[4525.3,-2.317],[4529.1,-2.329],[4532.2,-2.334],[4535.3,-2.294],[4539.1,-2.271],[4541.6,-2.326],[4544.1,-2.323],[4546.6,-2.34],[4549.1,-2.342],[4552.8,-2.306],[4555.9,-2.271],[4558.4,-2.312],[4561.3,-2.346],[4564.1,-2.283],[4567.2,-2.203],[4568.5,-2.237],[4571.6,-2.283],[4573.5,-2.246],[4576.6,-2.243],[4579.1,-2.312],[4582.2,-2.352],[4585.1,-2.369],[4588.5,-2.357],[4592.8,-2.357],[4595.9,-2.357],[4598.4,-2.369],[4601,-2.38],[4604.1,-2.34],[4607.2,-2.283],[4609.7,-2.289],[4612.2,-2.323],[4616.6,-2.323],[4618.4,-2.294],[4622.8,-2.285],[4625.3,-2.323],[4629.7,-2.34],[4634,-2.363],[4638.4,-2.375],[4642.8,-2.306],[4645.3,-2.32],[4648.4,-2.369],[4652.8,-2.329],[4657.8,-2.277],[4661.5,-2.306],[4665.3,-2.34],[4667.8,-2.349],[4671.5,-2.312],[4674.6,-2.329],[4676.5,-2.369],[4679,-2.361],[4682.8,-2.357],[4686.5,-2.357],[4690.3,-2.349],[4692.1,-2.344],[4694,-2.35],[4697,-2.34],[4700,-2.32]];

var seriesNames = [
	'Disk Model, T_max =  10,000 K',
	'Disk Model, T_max = 7000 K (no offset)',
	'Disk Model, T_max = 5000 K',
	'8000 K Atmosphere',
	'7000 K Atmosphere',
	'6000 K Atmosphere',
	'5000 K Atmosphere',
	'4000 K Atmosphere',
	'3000 K Atmosphere'
];
var seriesData = [disk10000, disk7000, disk5000, atm8000, atm7000, atm6000, atm5000, atm4000, atm3000];
var seriesColors = ['#1f77b4', '#ff7f0e', '#2ca02c', '#d62728', '#9467bd', '#8c564b', '#e377c2', '#7f7f7f', '#bcbd22'];
var yTicks = [-2.5, -2.0, -1.5, -1.0, -0.5, 0.0, 0.5, 1.0];

var FONT = 'DejaVu Sans';
var chart = echarts.init(document.getElementById('spectra'), null, {renderer: 'canvas'});

var series = seriesNames.map(function(name, i) {
	return {
		name: name,
		type: 'line',
		data: seriesData[i],
		symbol: 'none',
		showSymbol: false,
		smooth: 0.2,
		smoothMonotone: 'x',
		color: seriesColors[i],
		lineStyle: { width: i < 3 ? 4.5 : 3, color: seriesColors[i], join: 'round' },
		z: 2,
		animation: false
	};
});

var legendText = {
	fontSize: 24.5,
	fontFamily: FONT,
	color: '#000',
	lineHeight: 28,
	padding: [0, 0, 0, 14],
	rich: {
		i: { fontSize: 24.5, fontStyle: 'italic', fontFamily: FONT, lineHeight: 28 },
		s: { fontSize: 17, fontStyle: 'italic', fontFamily: FONT, lineHeight: 14, verticalAlign: 'bottom' }
	}
};

function legendBlock(names, left, lineH) {
	return {
		data: names,
		orient: 'vertical',
		left: left,
		top: 1947,
		padding: 0,
		itemGap: 8.5,
		itemWidth: 52,
		itemHeight: lineH,
		icon: 'rect',
		selectedMode: false,
		z: 5,
		textStyle: legendText,
		formatter: function(n) {
			return n.replace('T_max', '{i|T}{s|max}');
		}
	};
}

var option = {
	backgroundColor: '#fff',
	animation: false,
	textStyle: { fontFamily: FONT },
	grid: {
		left: 149, right: 54, top: 133, bottom: 173,
		show: true, borderColor: '#000', borderWidth: 1.5
	},
	legend: [
		legendBlock(seriesNames.slice(0, 3), 174, 4.5),
		legendBlock(seriesNames.slice(3, 6), 750, 3),
		legendBlock(seriesNames.slice(6, 9), 1115, 3)
	],
	graphic: [
		{
			type: 'rect', z: 3,
			shape: { x: 163, y: 1940, width: 1279, height: 125, r: 6 },
			style: { fill: 'rgba(255,255,255,0.8)', stroke: '#cccccc', lineWidth: 1.5 }
		},
		{
			type: 'text', left: 154, top: 103, z: 5,
			style: { text: '1e\u221214', fontSize: 30, fontFamily: FONT, fill: '#000' }
		}
	],
	xAxis: {
		type: 'value',
		min: 4200,
		max: 4700,
		interval: 50,
		name: '{l|λ} (Angstroms)',
		nameLocation: 'middle',
		nameGap: 46,
		nameTextStyle: {
			fontSize: 30, fontFamily: FONT, color: '#000',
			rich: { l: { fontSize: 30, fontStyle: 'italic', fontFamily: FONT } }
		},
		axisLine: { onZero: false, lineStyle: { color: '#000', width: 1.5 } },
		axisTick: { length: 10, lineStyle: { color: '#000', width: 1.5 } },
		axisLabel: {
			fontSize: 30, color: '#000', margin: 10, fontFamily: FONT,
			formatter: function(v) { return String(v); }
		},
		splitLine: { show: false }
	},
	yAxis: {
		type: 'value',
		min: -2.7,
		max: 1.0,
		name: '{it|F}{sub|λ} ({it|erg cm}{sup|\u22122}{it|s}{sup|\u22121}{it|Å}{sup|\u22121}) + offset',
		nameLocation: 'middle',
		nameRotate: 90,
		nameGap: 90,
		nameTextStyle: {
			fontSize: 30, fontFamily: FONT, color: '#000', lineHeight: 40,
			rich: {
				it: { fontSize: 30, fontStyle: 'italic', fontFamily: FONT, lineHeight: 40 },
				sub: { fontSize: 21, fontFamily: FONT, lineHeight: 20, verticalAlign: 'bottom' },
				sup: { fontSize: 21, fontFamily: FONT, lineHeight: 20, verticalAlign: 'top' }
			}
		},
		axisLine: { onZero: false, lineStyle: { color: '#000', width: 1.5 } },
		axisTick: { show: true, length: 10, customValues: yTicks, lineStyle: { color: '#000', width: 1.5 } },
		axisLabel: {
			fontSize: 30, color: '#000', margin: 14, fontFamily: FONT,
			customValues: yTicks,
			formatter: function(v) {
				return (v < 0 ? '\u2212' : '') + Math.abs(v).toFixed(1);
			}
		},
		splitLine: { show: false }
	},
	series: series
};

chart.setOption(option);

window.addEventListener('resize', function() {
	chart.resize();
});
</script>
</body>
</html>
